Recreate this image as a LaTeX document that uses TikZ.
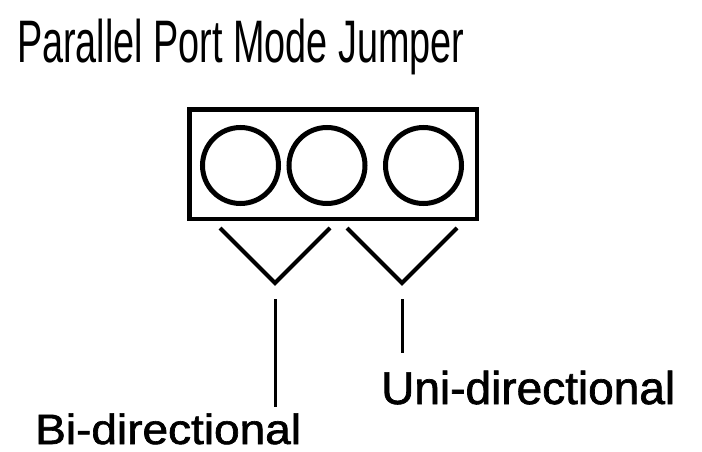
\documentclass[tikz,border=0pt]{standalone}
\usepackage{fontspec}
\setmainfont{Liberation Sans}
\newfontfamily\labelfont{Liberation Sans}[FakeBold=1.5]
\begin{document}
\begin{tikzpicture}[x=1pt,y=-1pt,
  frame/.style={draw=black,line width=4.5pt,fill=none},
  pin/.style={draw=black,line width=5pt,circle,minimum size=76pt,inner sep=0pt},
  vee/.style={draw=black,line width=4pt},
  lead/.style={draw=black,line width=3pt},
  label/.style={inner sep=0pt,anchor=base west,font=\labelfont\fontsize{46}{50}\selectfont}]
\useasboundingbox (0,0) rectangle (702,452);
\node[anchor=base west,inner sep=0pt,xscale=0.63,font=\fontsize{60}{64}\selectfont] (title) at (17,63) {Parallel Port Mode Jumper};
\node[frame,minimum width=287.5pt,minimum height=109.5pt,inner sep=0pt] (jumper) at (333.25,164.25) {};
\node[pin] (p1) at (240.5,165.5) {};
\node[pin] (p2) at (327,165.5) {};
\node[pin] (p3) at (423.5,165.5) {};
\coordinate (a1) at (220,228);
\coordinate (v1) at (275,283);
\coordinate (b1) at (330,228);
\coordinate (a2) at (347,228);
\coordinate (v2) at (402,283);
\coordinate (b2) at (457,228);
\coordinate (t1) at (275,299);
\coordinate (e1) at (275,407);
\coordinate (t2) at (402,299);
\coordinate (e2) at (402,353);
\draw[vee] (a1) -- (v1) -- (b1);
\draw[vee] (a2) -- (v2) -- (b2);
\draw[lead] (t1) -- (e1);
\draw[lead] (t2) -- (e2);
\node[label,yscale=0.92] (bi) at (35,444) {Bi-directional};
\node[label] (uni) at (381,404) {Uni-directional};
\end{tikzpicture}
\end{document}
